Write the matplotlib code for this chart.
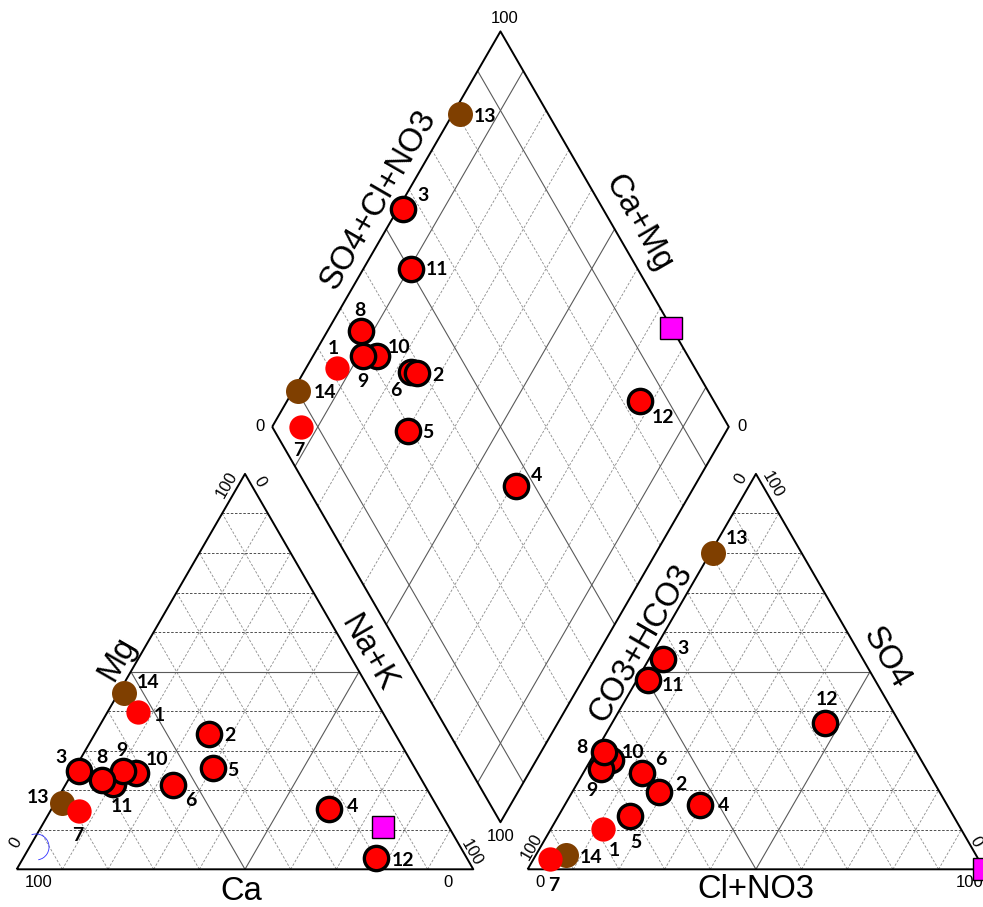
import numpy as np
import matplotlib.pyplot as plt
from matplotlib.patches import Arc

# Sample ids and ionic composition (% meq)
samples = ['1', '2', '3', '4', '5', '6', '7', '8', '9', '10', '11', '12', '13', '14']
ca = [53.6, 40.9, 73.9, 23.9, 44.2, 55.2, 79.0, 70.1, 64.2, 61.7, 68.0, 19.9, 81.6, 54.1]
mg = [39.7, 34.1, 24.9, 15.3, 25.5, 21.3, 14.7, 22.6, 24.9, 24.3, 21.6, 2.9, 16.8, 44.7]
nak = [6.7, 25.0, 1.2, 60.8, 30.3, 23.5, 6.3, 7.3, 10.9, 14.0, 10.4, 77.2, 1.6, 1.2]
hco3 = [78.5, 61.4, 43.8, 54.1, 70.8, 62.7, 93.8, 68.5, 71.3, 68.0, 49.6, 16.3, 19.4, 89.8]
cl = [11.4, 19.0, 3.0, 29.6, 15.7, 12.9, 3.6, 1.8, 3.4, 4.4, 2.5, 46.6, 0.5, 6.6]
so4 = [10.1, 19.6, 53.2, 16.3, 13.5, 24.4, 2.6, 29.7, 25.3, 27.6, 47.9, 37.1, 80.1, 3.6]
group = ['plain', 'outlined', 'outlined', 'outlined', 'outlined', 'outlined', 'plain',
         'outlined', 'outlined', 'outlined', 'outlined', 'outlined', 'brown', 'brown']

# reference water (magenta square)
ref_ca, ref_mg, ref_nak = 14.3, 10.8, 74.9
ref_hco3, ref_cl, ref_so4 = 0.0, 100.0, 0.0

# label offsets (pixels, right / down) per panel
off_cat = {'1': (21.7, 2.7), '2': (21, 0.7), '3': (-18, -13.3), '4': (23, -2), '5': (20, 2.3),
           '6': (18, 15.7), '7': (-1.7, 24), '8': (0, -22.3), '9': (-1.7, -20), '10': (20.7, -13.3),
           '11': (8.3, 22.7), '12': (26.7, 2.3), '13': (-24.3, -5), '14': (24.3, -10)}
off_an = {'1': (11.3, 20.7), '2': (21.7, -7.7), '3': (19.7, -10.7), '4': (23.3, 0.7), '5': (5.7, 26.7),
          '6': (18.3, -13.3), '7': (3.3, 26), '8': (-21.3, -4.3), '9': (-9.3, 21.3), '10': (22, -7.3),
          '11': (25, 5.7), '12': (1.7, -23.3), '13': (24, -13.7), '14': (24.7, 2.7)}
off_dia = {'1': (-3.3, -20), '2': (21, 2.7), '3': (19.3, -14), '4': (20.7, -10), '5': (20, 1),
           '6': (-15, 18.3), '7': (-2.3, 23.3), '8': (-1, -21), '9': (0.3, 25), '10': (22.3, -8.3),
           '11': (26, 1), '12': (24, 16), '13': (25, 1.7), '14': (26.7, 1.7)}

H = np.sqrt(3) / 2
GAP = 0.119
OX = 1 + GAP
B = np.array([1 + GAP / 2, GAP * H])
L = B + np.array([-0.5, H])
T = B + np.array([0, 2 * H])
R = B + np.array([0.5, H])

styles = {
    'outlined': dict(marker='o', ms=17.5, mfc='#ff0000', mec='black', mew=2.4),
    'plain': dict(marker='o', ms=17.5, mfc='#ff0000', mec='none'),
    'brown': dict(marker='o', ms=18, mfc='#7f3f00', mec='none'),
}
ref_style = dict(marker='s', ms=15.5, mfc='#ff00ff', mec='black', mew=1.0)

solid_kw = dict(color='#5a5a5a', lw=0.8, zorder=1)
hdash_kw = dict(color='#333333', lw=0.6, ls=(0, (3, 2)), zorder=1)
ddash_kw = dict(color='#8a8a8a', lw=0.6, ls=(0, (3, 2)), zorder=1)
edge_kw = dict(color='black', lw=1.4, zorder=2, solid_capstyle='butt')

LABEL_FONT = 'Lato'
AXIS_FONT = 'Liberation Sans'


def cation_xy(c, m, n):
    t = c + m + n
    m, n = m / t, n / t
    return n + m / 2, m * H


def anion_xy(h, c, s):
    t = h + c + s
    c, s = c / t, s / t
    return OX + c + s / 2, s * H


def diamond_xy(n, h):
    u = 1 - h / 100.0
    v = n / 100.0
    p = L + u * (T - L) + v * (R - T)
    return p[0], p[1]


fig = plt.figure(figsize=(9.83, 9.07), dpi=100)
ax = fig.add_axes([0, 0, 1, 1])
S = 456.6
ax.set_xlim(-16.7 / S, (983 - 16.7) / S)
ax.set_ylim((869.3 - 907) / S, 869.3 / S)
ax.axis('off')


def tri_grid(ox):
    for k in range(1, 10):
        f = k / 10
        solid = k == 5
        ax.plot([ox + f / 2, ox + 1 - f / 2], [f * H, f * H], **(solid_kw if solid else hdash_kw))
        ax.plot([ox + f, ox + f + (1 - f) / 2], [0, (1 - f) * H], **(solid_kw if solid else ddash_kw))
        ax.plot([ox + 1 - f, ox + (1 - f) / 2], [0, (1 - f) * H], **(solid_kw if solid else ddash_kw))
    ax.plot([ox, ox + 1, ox + 0.5, ox], [0, 0, H, 0], **edge_kw)


tri_grid(0)
tri_grid(OX)

# diamond grid
for k in range(1, 10):
    f = k / 10
    kw = solid_kw if k in (1, 5, 9) else ddash_kw
    p0, p1 = L + f * (B - L), T + f * (R - T)
    ax.plot([p0[0], p1[0]], [p0[1], p1[1]], **kw)
    p0, p1 = L + f * (T - L), B + f * (R - B)
    ax.plot([p0[0], p1[0]], [p0[1], p1[1]], **kw)
dx = [L[0], T[0], R[0], B[0], L[0]]
dy = [L[1], T[1], R[1], B[1], L[1]]
ax.plot(dx, dy, **edge_kw)

# data points (drawn in reverse so low ids sit on top)
for i in reversed(range(len(samples))):
    st = styles[group[i]]
    cx, cy = cation_xy(ca[i], mg[i], nak[i])
    axx, ayy = anion_xy(hco3[i], cl[i], so4[i])
    dxx, dyy = diamond_xy(nak[i] / (ca[i] + mg[i] + nak[i]) * 100,
                          hco3[i] / (hco3[i] + cl[i] + so4[i]) * 100)
    for (x, y), offs in (((cx, cy), off_cat), ((axx, ayy), off_an), ((dxx, dyy), off_dia)):
        ax.plot([x], [y], ls='none', zorder=3 + (14 - i) * 0.01, **st)
        ox_, oy_ = offs[samples[i]]
        ax.annotate(samples[i], (x, y), xytext=(ox_ * 0.72, -oy_ * 0.72),
                    textcoords='offset points', ha='center', va='center',
                    fontsize=14, fontweight='bold', family=LABEL_FONT, zorder=5)

# reference water
for x, y in (cation_xy(ref_ca, ref_mg, ref_nak), anion_xy(ref_hco3, ref_cl, ref_so4),
             diamond_xy(ref_nak, ref_hco3)):
    ax.plot([x], [y], ls='none', zorder=4, clip_on=False, **ref_style)


# axis titles
def edge_text(p0, p1, t, off, text, rot, size=23.5):
    p0, p1 = np.asarray(p0, float), np.asarray(p1, float)
    d = (p1 - p0) / np.linalg.norm(p1 - p0)
    n = np.array([-d[1], d[0]])
    p = p0 + t * (p1 - p0) + off * n
    ax.text(p[0], p[1], text, rotation=rot, ha='center', va='center',
            fontsize=size, family=AXIS_FONT, rotation_mode='anchor')


edge_text((0, 0), (0.5, H), 0.51, 0.04, 'Mg', 60)
edge_text((0.5, H), (1, 0), 0.4745, 0.0372, 'Na+K', -60)
edge_text((1, 0), (0, 0), 0.5072, 0.049, 'Ca', 0)
edge_text((OX, 0), (OX + 0.5, H), 0.554, 0.0315, 'CO3+HCO3', 60)
edge_text((OX + 0.5, H), (OX + 1, 0), 0.4924, 0.0464, 'SO4', -60)
edge_text((OX + 1, 0), (OX, 0), 0.5005, 0.045, 'Cl+NO3', 0)
edge_text(L, T, 0.5464, 0.047, 'SO4+Cl+NO3', 60)
edge_text(T, R, 0.514, 0.051, 'Ca+Mg', -60)

# tick labels
tick_kw = dict(fontsize=12, family=AXIS_FONT, ha='center', va='center')
ax.text(0.0488, -0.0298, '100', **tick_kw)
ax.text(0.944, -0.0298, '0', **tick_kw)
ax.text(OX + 0.0262, -0.0298, '0', **tick_kw)
ax.text(OX + 0.9679, -0.0298, '100', **tick_kw)
ax.text(-0.0022, 0.0576, '0', rotation=60, **tick_kw)
ax.text(0.46, 0.8417, '100', rotation=60, **tick_kw)
ax.text(0.5328, 0.8489, '0', rotation=-60, **tick_kw)
ax.text(0.9965, 0.0357, '100', rotation=-60, **tick_kw)
ax.text(OX + 0.0089, 0.0495, '100', rotation=60, **tick_kw)
ax.text(OX + 0.4666, 0.8548, '0', rotation=60, **tick_kw)
ax.text(OX + 0.5374, 0.8417, '100', rotation=-60, **tick_kw)
ax.text(OX + 0.982, 0.0604, '0', rotation=-60, **tick_kw)
ax.text(T[0] + 0.01, T[1] + 0.029, '100', **tick_kw)
ax.text(L[0] - 0.027, L[1], '0', **tick_kw)
ax.text(R[0] + 0.028, R[1], '0', **tick_kw)
ax.text(B[0], B[1] - 0.032, '100', **tick_kw)

# small blue arc near the Ca corner
ax.add_patch(Arc((0.0423, 0.0489), 0.057, 0.057, theta1=-80, theta2=110,
                 color='#3030ff', lw=0.6, zorder=2))

fig.savefig('out.png', dpi=100)
